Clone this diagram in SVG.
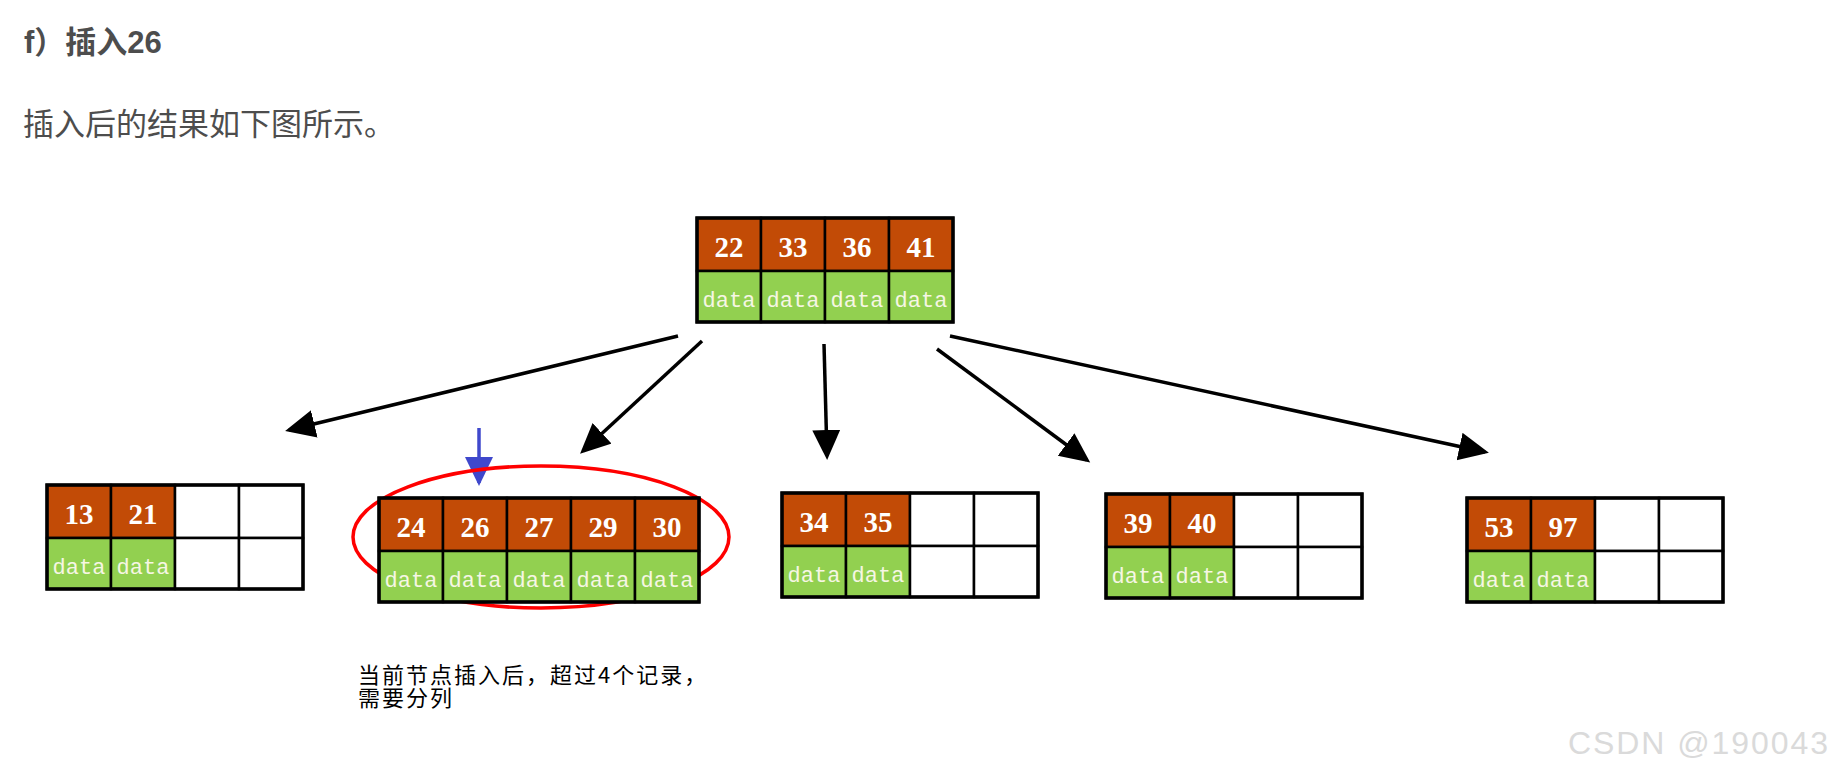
<svg xmlns="http://www.w3.org/2000/svg" width="1834" height="775" viewBox="0 0 1834 775">
<style>
.k{fill:#C24B06;stroke:#000;stroke-width:2.5}
.d{fill:#92D050;stroke:#000;stroke-width:2.5}
.e{fill:#fff;stroke:#000;stroke-width:2.5}
.o{fill:none;stroke:#000;stroke-width:3.5}
.num{font-family:"Liberation Serif",serif;font-weight:bold;font-size:29px;fill:#fff;text-anchor:middle}
.dat{font-family:"Liberation Mono",monospace;font-size:22px;fill:#f6f6e4;text-anchor:middle}
.conn{stroke:#000;stroke-width:3.5;fill:none;marker-end:url(#ah)}
.h1{font-family:"Liberation Sans","Noto Sans CJK SC",sans-serif;font-weight:bold;font-size:31px;fill:#4d4d4d}
.p{font-family:"Liberation Sans","Noto Sans CJK SC",sans-serif;font-size:31px;fill:#4d4d4d}
.note{font-family:"Noto Sans CJK SC",sans-serif;font-size:22px;letter-spacing:2px;fill:#000}
</style>
<defs>
<marker id="ah" markerUnits="userSpaceOnUse" markerWidth="34" markerHeight="30" refX="26" refY="14" orient="auto">
<path d="M0,0 L30,14 L0,28 z" fill="#000"/>
</marker>
<marker id="bh" markerUnits="userSpaceOnUse" markerWidth="32" markerHeight="30" refX="26" refY="14" orient="auto">
<path d="M0,0 L29,14 L0,28 z" fill="#3F48CC"/>
</marker>
</defs>
<rect width="1834" height="775" fill="#fff"/>
<text class="h1" x="24" y="53">f）插入26</text>
<text class="p" x="23" y="135">插入后的结果如下图所示。</text>

<g id="connectors">
<line class="conn" x1="678" y1="336" x2="289" y2="430"/>
<line class="conn" x1="702" y1="341" x2="583" y2="451"/>
<line class="conn" x1="824" y1="344" x2="827" y2="456"/>
<line class="conn" x1="937" y1="349" x2="1087" y2="460"/>
<line class="conn" x1="950" y1="336" x2="1485" y2="452"/>
<line x1="479" y1="428" x2="479" y2="483" stroke="#3F48CC" stroke-width="3.5" marker-end="url(#bh)"/>
</g>

<g id="node-root">
<rect class="k" x="697" y="218" width="64" height="53"/><rect class="k" x="761" y="218" width="64" height="53"/><rect class="k" x="825" y="218" width="64" height="53"/><rect class="k" x="889" y="218" width="64" height="53"/>
<rect class="d" x="697" y="271" width="64" height="51"/><rect class="d" x="761" y="271" width="64" height="51"/><rect class="d" x="825" y="271" width="64" height="51"/><rect class="d" x="889" y="271" width="64" height="51"/>
<rect class="o" x="697" y="218" width="256" height="104"/>
<text class="num" x="729" y="257">22</text><text class="num" x="793" y="257">33</text><text class="num" x="857" y="257">36</text><text class="num" x="921" y="257">41</text>
<text class="dat" x="729" y="307">data</text><text class="dat" x="793" y="307">data</text><text class="dat" x="857" y="307">data</text><text class="dat" x="921" y="307">data</text>
</g>

<g id="node-13-21">
<rect class="k" x="47" y="485" width="64" height="53"/><rect class="k" x="111" y="485" width="64" height="53"/><rect class="e" x="175" y="485" width="64" height="53"/><rect class="e" x="239" y="485" width="64" height="53"/>
<rect class="d" x="47" y="538" width="64" height="51"/><rect class="d" x="111" y="538" width="64" height="51"/><rect class="e" x="175" y="538" width="64" height="51"/><rect class="e" x="239" y="538" width="64" height="51"/>
<rect class="o" x="47" y="485" width="256" height="104"/>
<text class="num" x="79" y="524">13</text><text class="num" x="143" y="524">21</text>
<text class="dat" x="79" y="574">data</text><text class="dat" x="143" y="574">data</text>
</g>

<g id="node-24-30">
<ellipse cx="541" cy="537" rx="188" ry="71" fill="none" stroke="#FF0000" stroke-width="3.5"/>
<rect class="k" x="379" y="498" width="64" height="53"/><rect class="k" x="443" y="498" width="64" height="53"/><rect class="k" x="507" y="498" width="64" height="53"/><rect class="k" x="571" y="498" width="64" height="53"/><rect class="k" x="635" y="498" width="64" height="53"/>
<rect class="d" x="379" y="551" width="64" height="51"/><rect class="d" x="443" y="551" width="64" height="51"/><rect class="d" x="507" y="551" width="64" height="51"/><rect class="d" x="571" y="551" width="64" height="51"/><rect class="d" x="635" y="551" width="64" height="51"/>
<rect class="o" x="379" y="498" width="320" height="104"/>
<text class="num" x="411" y="537">24</text><text class="num" x="475" y="537">26</text><text class="num" x="539" y="537">27</text><text class="num" x="603" y="537">29</text><text class="num" x="667" y="537">30</text>
<text class="dat" x="411" y="587">data</text><text class="dat" x="475" y="587">data</text><text class="dat" x="539" y="587">data</text><text class="dat" x="603" y="587">data</text><text class="dat" x="667" y="587">data</text>
</g>

<g id="node-34-35">
<rect class="k" x="782" y="493" width="64" height="53"/><rect class="k" x="846" y="493" width="64" height="53"/><rect class="e" x="910" y="493" width="64" height="53"/><rect class="e" x="974" y="493" width="64" height="53"/>
<rect class="d" x="782" y="546" width="64" height="51"/><rect class="d" x="846" y="546" width="64" height="51"/><rect class="e" x="910" y="546" width="64" height="51"/><rect class="e" x="974" y="546" width="64" height="51"/>
<rect class="o" x="782" y="493" width="256" height="104"/>
<text class="num" x="814" y="532">34</text><text class="num" x="878" y="532">35</text>
<text class="dat" x="814" y="582">data</text><text class="dat" x="878" y="582">data</text>
</g>

<g id="node-39-40">
<rect class="k" x="1106" y="494" width="64" height="53"/><rect class="k" x="1170" y="494" width="64" height="53"/><rect class="e" x="1234" y="494" width="64" height="53"/><rect class="e" x="1298" y="494" width="64" height="53"/>
<rect class="d" x="1106" y="547" width="64" height="51"/><rect class="d" x="1170" y="547" width="64" height="51"/><rect class="e" x="1234" y="547" width="64" height="51"/><rect class="e" x="1298" y="547" width="64" height="51"/>
<rect class="o" x="1106" y="494" width="256" height="104"/>
<text class="num" x="1138" y="533">39</text><text class="num" x="1202" y="533">40</text>
<text class="dat" x="1138" y="583">data</text><text class="dat" x="1202" y="583">data</text>
</g>

<g id="node-53-97">
<rect class="k" x="1467" y="498" width="64" height="53"/><rect class="k" x="1531" y="498" width="64" height="53"/><rect class="e" x="1595" y="498" width="64" height="53"/><rect class="e" x="1659" y="498" width="64" height="53"/>
<rect class="d" x="1467" y="551" width="64" height="51"/><rect class="d" x="1531" y="551" width="64" height="51"/><rect class="e" x="1595" y="551" width="64" height="51"/><rect class="e" x="1659" y="551" width="64" height="51"/>
<rect class="o" x="1467" y="498" width="256" height="104"/>
<text class="num" x="1499" y="537">53</text><text class="num" x="1563" y="537">97</text>
<text class="dat" x="1499" y="587">data</text><text class="dat" x="1563" y="587">data</text>
</g>

<g id="note">
<text class="note" x="358" y="683">当前节点插入后，超过4个记录，</text>
<text class="note" x="358" y="706">需要分列</text>
</g>

<text x="1568" y="754" font-family="'Liberation Sans',sans-serif" font-size="32" fill="#dadada" textLength="260">CSDN @190043</text>
</svg>
